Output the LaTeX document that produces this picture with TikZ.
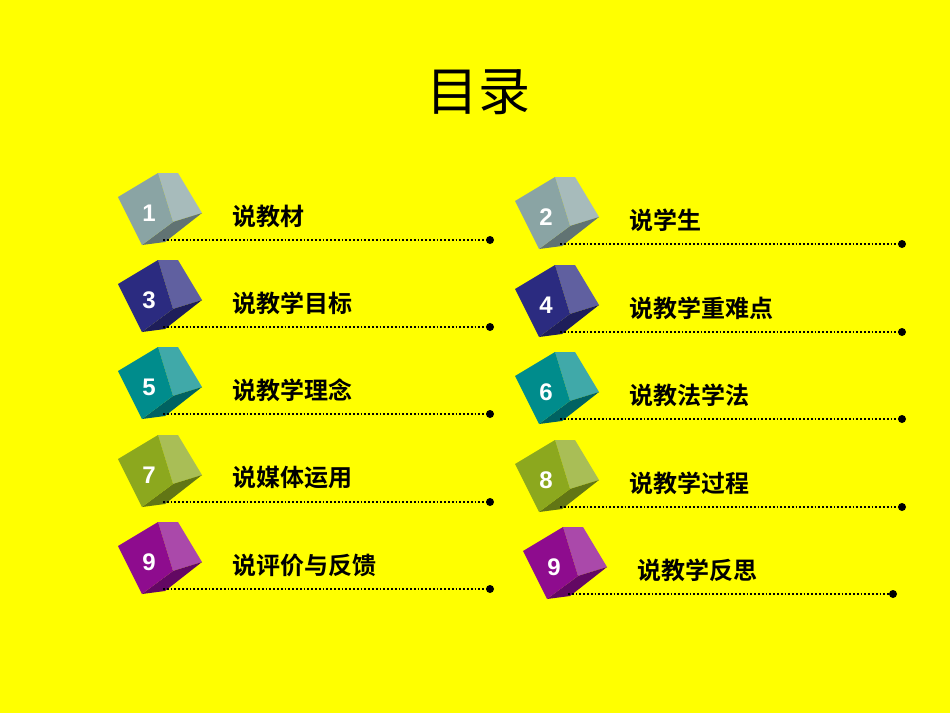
\documentclass[tikz,border=0pt]{standalone}
\usepackage{fontspec}
\newfontfamily\cjk{Noto Sans CJK SC}
\newfontfamily\cjkb{Noto Sans CJK SC Bold}
\setmainfont{Liberation Sans}
\definecolor{bg}{HTML}{FFFF00}
\definecolor{cg}{HTML}{8AA4A4}
\definecolor{cn}{HTML}{2B2B80}
\definecolor{ct}{HTML}{008C8C}
\definecolor{co}{HTML}{8CA81E}
\definecolor{cv}{HTML}{8E0C8E}
\tikzset{lbl/.style={font=\cjkb\fontsize{24}{24}\selectfont,anchor=west,inner sep=0},
numl/.style={font=\bfseries\fontsize{24}{24}\selectfont,text=white,inner sep=0},
dotl/.style={line width=1.8pt,dotted}}
\newcommand{\mycube}[7]{% x y color name num label lineend
\begin{scope}[shift={(#1pt,-#2pt)},x=1pt,y=-1pt]
\fill[#3!75!white] (40,0)--(60,0)--(84,40)--(55,49)--cycle;
\fill[#3!70!black] (55,49)--(84,40)--(47,69)--(24,72)--cycle;
\fill[#3] (0,24)--(40,0)--(55,49)--(24,72)--cycle;
\node[numl] (n#4) at (31,40) {#5};
\node[lbl] (t#4) at (114,43) {#6};
\coordinate (s#4) at (45,67);
\coordinate (e#4) at (#7,67);
\draw[dotl] (s#4)--(e#4);
\fill (e#4) circle (4);
\end{scope}}
\begin{document}
\begin{tikzpicture}[x=1pt,y=1pt]
\fill[bg] (0,0) rectangle (950,-713);
\node[font=\cjk\fontsize{52}{52}\selectfont] (title) at (478,-92) {目录};
\mycube{118}{173}{cg}{a}{1}{说教材}{372}
\mycube{515}{177}{cg}{b}{2}{说学生}{387}
\mycube{118}{260}{cn}{c}{3}{说教学目标}{372}
\mycube{515}{265}{cn}{d}{4}{说教学重难点}{387}
\mycube{118}{347}{ct}{e}{5}{说教学理念}{372}
\mycube{515}{352}{ct}{f}{6}{说教法学法}{387}
\mycube{118}{435}{co}{g}{7}{说媒体运用}{372}
\mycube{515}{440}{co}{h}{8}{说教学过程}{387}
\mycube{118}{522}{cv}{i}{9}{说评价与反馈}{372}
\mycube{523}{527}{cv}{j}{9}{说教学反思}{370}
\end{tikzpicture}
\end{document}
